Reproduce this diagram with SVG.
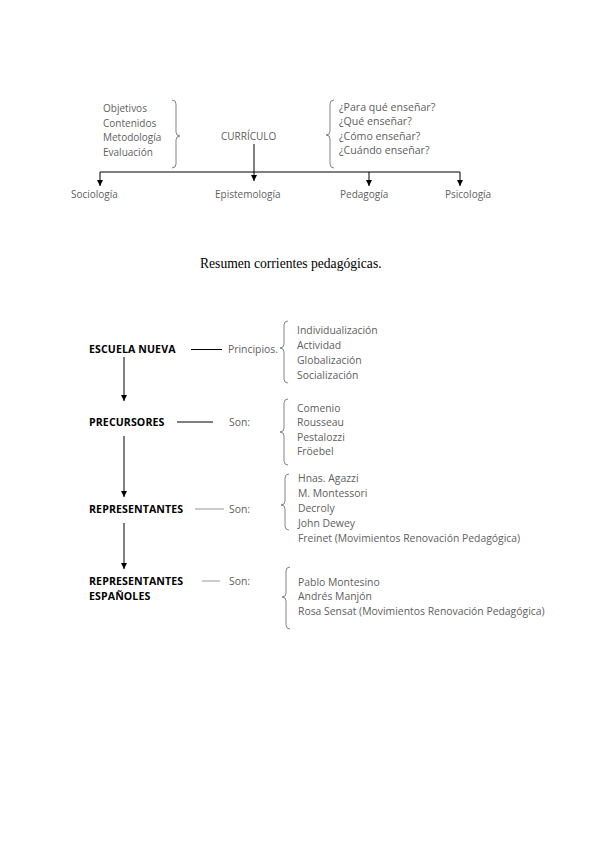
<svg xmlns="http://www.w3.org/2000/svg" width="599" height="848" viewBox="0 0 599 848">
<defs>
<style>
.t{font-family:"Open Sans","Liberation Sans",sans-serif;font-size:10px;fill:#606060}
.q{font-family:"Open Sans","Liberation Sans",sans-serif;font-size:10.6px;fill:#606060}
.b{font-family:"Open Sans","Liberation Sans",sans-serif;font-size:10.4px;fill:#606060}
.h{font-family:"Open Sans","Liberation Sans",sans-serif;font-size:10.6px;font-weight:bold;fill:#000;letter-spacing:0.1px}
.title{font-family:"Liberation Serif","Times New Roman",serif;font-size:13.6px;fill:#000}
.br{fill:none;stroke:#777;stroke-width:0.9}
.ln{fill:none;stroke:#000;stroke-width:1}
.lg{fill:none;stroke:#999;stroke-width:1}
</style>
<marker id="ar" viewBox="0 0 10 10" refX="10" refY="5" markerWidth="6" markerHeight="6" markerUnits="userSpaceOnUse" orient="auto">
<path d="M0,0 L10,5 L0,10 z" fill="#000"/>
</marker>
</defs>
<rect width="599" height="848" fill="#fff"/>

<g id="curriculo-inputs">
<text class="t" x="103" y="112">Objetivos</text>
<text class="t" x="103" y="126.5">Contenidos</text>
<text class="t" x="103" y="141">Metodología</text>
<text class="t" x="103" y="155.5">Evaluación</text>
<path class="br" d="M172,100 Q176,100 176,104 L176,132 Q176,136 180,136 Q176,136 176,140 L176,164 Q176,168 172,168"/>
</g>
<g id="curriculo"><text class="t" x="221" y="140">CURRÍCULO</text></g>
<g id="preguntas">
<path class="br" d="M334,100 Q330,100 330,104 L330,131 Q330,135 326,135 Q330,135 330,139 L330,164 Q330,168 334,168"/>
<text class="q" x="339" y="111">¿Para qué enseñar?</text>
<text class="q" x="339" y="125">¿Qué enseñar?</text>
<text class="q" x="339" y="139.5">¿Cómo enseñar?</text>
<text class="q" x="339" y="154">¿Cuándo enseñar?</text>
</g>
<g id="sociologia"><text class="t" x="71" y="198">Sociología</text></g>
<g id="epistemologia"><text class="t" x="215" y="198">Epistemología</text></g>
<g id="pedagogia"><text class="t" x="340" y="198">Pedagogía</text></g>
<g id="psicologia"><text class="t" x="445" y="198">Psicología</text></g>

<g id="title"><text class="title" x="200" y="268">Resumen corrientes pedagógicas.</text></g>

<g id="escuela-nueva"><text class="h" x="89" y="353">ESCUELA NUEVA</text></g>
<g id="principios"><text class="b" x="228" y="353">Principios.</text>
<path class="br" d="M288,321 Q284,321 284,325 L284,344 Q284,348 280,348 Q284,348 284,352 L284,379 Q284,383 288,383"/>
<text class="b" x="297" y="333.5">Individualización</text>
<text class="b" x="297" y="348.5">Actividad</text>
<text class="b" x="297" y="363.5">Globalización</text>
<text class="b" x="297" y="378.5">Socialización</text>
</g>
<g id="precursores"><text class="h" x="89" y="425.5">PRECURSORES</text></g>
<g id="precursores-son"><text class="b" x="229" y="426">Son:</text>
<path class="br" d="M288,399 Q284,399 284,403 L284,428 Q284,432 280,432 Q284,432 284,436 L284,461 Q284,465 288,465"/>
<text class="b" x="297" y="412">Comenio</text>
<text class="b" x="297" y="426">Rousseau</text>
<text class="b" x="297" y="440.5">Pestalozzi</text>
<text class="b" x="297" y="455">Fröebel</text>
</g>
<g id="representantes"><text class="h" x="89" y="512.5">REPRESENTANTES</text></g>
<g id="representantes-son"><text class="b" x="229" y="513">Son:</text>
<path class="br" d="M289,474 Q285,474 285,478 L285,501 Q285,505 281,505 Q285,505 285,509 L285,526 Q285,530 289,530"/>
<text class="b" x="298" y="482">Hnas. Agazzi</text>
<text class="b" x="298" y="497">M. Montessori</text>
<text class="b" x="298" y="512">Decroly</text>
<text class="b" x="298" y="526.5">John Dewey</text>
<text class="b" x="298" y="541.5">Freinet (Movimientos Renovación Pedagógica)</text>
</g>
<g id="representantes-espanoles"><text class="h" x="89" y="584.5">REPRESENTANTES</text><text class="h" x="89" y="599.5">ESPAÑOLES</text></g>
<g id="espanoles-son"><text class="b" x="229" y="585">Son:</text>
<path class="br" d="M290,567 Q286,567 286,571 L286,593 Q286,597 282,597 Q286,597 286,601 L286,625 Q286,629 290,629"/>
<text class="b" x="298" y="585.5">Pablo Montesino</text>
<text class="b" x="298" y="600">Andrés Manjón</text>
<text class="b" x="298" y="615">Rosa Sensat (Movimientos Renovación Pedagógica)</text>
</g>

<g id="connectors">
<line class="ln" x1="254" y1="144" x2="254" y2="181" marker-end="url(#ar)"/>
<line class="ln" x1="100" y1="172" x2="460" y2="172"/>
<line class="ln" x1="100" y1="172" x2="100" y2="186" marker-end="url(#ar)"/>
<line class="ln" x1="369" y1="172" x2="369" y2="186" marker-end="url(#ar)"/>
<line class="ln" x1="460" y1="172" x2="460" y2="186" marker-end="url(#ar)"/>
<line class="ln" x1="124" y1="357" x2="124" y2="401" marker-end="url(#ar)"/>
<line class="ln" x1="124" y1="436" x2="124" y2="497" marker-end="url(#ar)"/>
<line class="ln" x1="124" y1="523" x2="124" y2="569" marker-end="url(#ar)"/>
<line class="ln" x1="191" y1="349.5" x2="222" y2="349.5"/>
<line class="ln" x1="177" y1="422" x2="213" y2="422"/>
<line class="lg" x1="195" y1="509" x2="224" y2="509"/>
<line class="lg" x1="202" y1="581" x2="220" y2="581"/>
</g>
</svg>
